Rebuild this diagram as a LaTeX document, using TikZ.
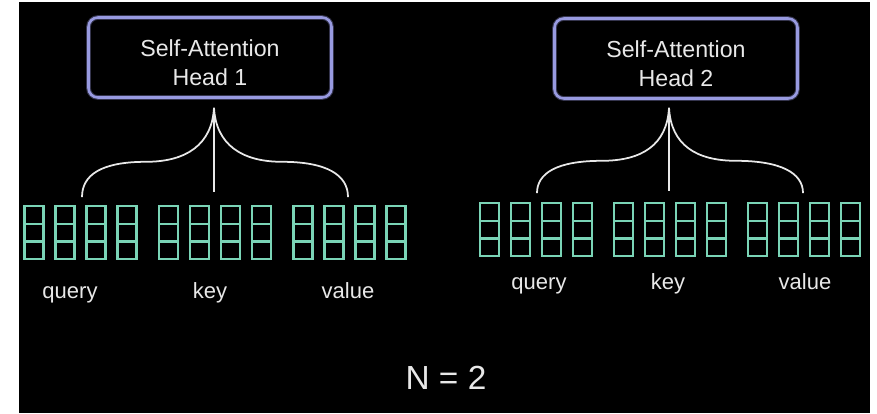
\documentclass[tikz,border=0pt]{standalone}
\usepackage{fontspec}
\setmainfont{Liberation Sans}
\usepackage{xcolor}
\usetikzlibrary{positioning,calc}
\definecolor{saFrame}{RGB}{152,154,224}
\definecolor{saTeal}{RGB}{122,212,182}
\definecolor{saText}{RGB}{232,232,232}
\tikzset{
  sa head/.style={
    rectangle,
    rounded corners=8pt,
    minimum width=7.29cm,
    minimum height=2.4cm,
    line width=2.2pt,
    draw=saFrame,
    preaction={draw=saFrame,opacity=0.35,line width=4pt},
    text=saText,
    align=center,
    font=\fontsize{19.8pt}{24.8pt}\selectfont,
  },
  sa cell/.style={
    rectangle,
    minimum width=0.57cm,
    minimum height=0.53cm,
    line width=2pt,
    draw=saTeal,
    inner sep=0pt,
    outer sep=0pt,
  },
  sa label/.style={text=saText, anchor=base, inner sep=0pt,
    font=\fontsize{18.8pt}{22pt}\selectfont},
  sa total/.style={text=saText, font=\fontsize{28.5pt}{34pt}\selectfont},
  sa brace/.style={draw=saText, line width=1.5pt},
}

\begin{document}
\begin{tikzpicture}[x=0.03cm,y=-0.03cm]
  \fill[white] (0,0) rectangle (877,413);
  \fill[black] (19,2) rectangle (870,413);
  \useasboundingbox (0,0) rectangle (877,413);

  % the two heads
  \node[sa head] (head1) at (210,57.5) {\rule{0pt}{23pt}Self-Attention\\Head 1};
  \node[sa head] (head2) at (676,58.5) {\rule{0pt}{23pt}Self-Attention\\Head 2};

  % query, key and value vectors
  \foreach \g/\v in {0/q,1/k,2/v}
    \foreach \c in {1,...,4} {
      \node[sa cell] (h1\v\c a) at ({34+134.5*\g+31*(\c-1)},214.9) {};
      \node[sa cell,below=0pt of h1\v\c a] (h1\v\c b) {};
      \node[sa cell,below=0pt of h1\v\c b] (h1\v\c c) {};
      \node[sa cell] (h2\v\c a) at ({489.5+134*\g+31*(\c-1)},211.9) {};
      \node[sa cell,below=0pt of h2\v\c a] (h2\v\c b) {};
      \node[sa cell,below=0pt of h2\v\c b] (h2\v\c c) {};
    }

  \node[sa label] (h1query) at (70,298) {query};
  \node[sa label] (h1key) at (210,298) {key};
  \node[sa label] (h1value) at (348,298) {value};
  \node[sa label] (h2query) at (539,289) {query};
  \node[sa label] (h2key) at (668,289) {key};
  \node[sa label] (h2value) at (805,289) {value};

  \node[sa total] (total) at (446,378) {N = 2};

  % braces
  \coordinate (h1left) at ($(h1q2a.north)!.5!(h1q3a.north)+(1.5,-9)$);
  \coordinate (h1stem) at ($(h1k2a.north)!.5!(h1k3a.north)+(-1,-14)$);
  \coordinate (h1right) at ($(h1v2a.north)!.5!(h1v3a.north)+(-1.5,-9)$);
  \coordinate (h1apex) at ($(h1stem |- head1.south)+(0,9)$);
  \coordinate (h1lmid) at ($(h1apex)+(-68,54)$);
  \coordinate (h1rmid) at ($(h1apex)+(68,54)$);

  \coordinate (h2left) at ($(h2q2a.north)!.5!(h2q3a.north)+(1,-10)$);
  \coordinate (h2stem) at ($(h2k2a.north)!.5!(h2k3a.north)+(-1,-12)$);
  \coordinate (h2right) at ($(h2v2a.north)!.5!(h2v3a.north)+(-1,-10)$);
  \coordinate (h2apex) at ($(h2stem |- head2.south)+(0,8)$);
  \coordinate (h2lmid) at ($(h2apex)+(-67,53)$);
  \coordinate (h2rmid) at ($(h2apex)+(67,53)$);

  \draw[sa brace] (h1apex) -- (h1stem);
  \draw[sa brace] (h1apex) .. controls +(-2,37) and +(40,0) .. (h1lmid)
    .. controls +(-45,0) and +(0,-22) .. (h1left);
  \draw[sa brace] (h1apex) .. controls +(2,37) and +(-40,0) .. (h1rmid)
    .. controls +(45,0) and +(0,-22) .. (h1right);
  \draw[sa brace] (h2apex) -- (h2stem);
  \draw[sa brace] (h2apex) .. controls +(-2,37) and +(40,0) .. (h2lmid)
    .. controls +(-45,0) and +(0,-20) .. (h2left);
  \draw[sa brace] (h2apex) .. controls +(2,37) and +(-40,0) .. (h2rmid)
    .. controls +(45,0) and +(0,-20) .. (h2right);
\end{tikzpicture}
\end{document}
